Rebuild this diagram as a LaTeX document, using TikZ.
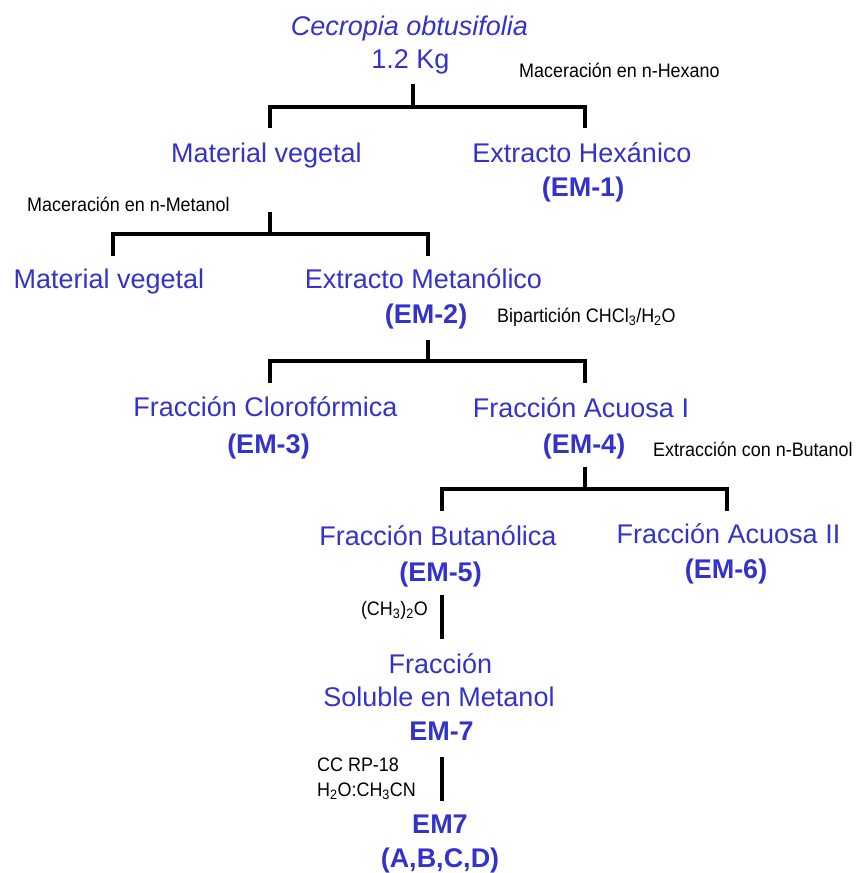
\documentclass[tikz,border=0pt]{standalone}
\usepackage{fontspec}
\setmainfont{Liberation Sans}
\newfontfamily\narrowfont[FakeStretch=0.92]{Liberation Sans}
\definecolor{diagblue}{RGB}{51,51,204}
\tikzset{
  bl/.style={anchor=base, inner sep=0pt, text=diagblue, font=\fontsize{27}{32}\selectfont},
  blb/.style={bl, font=\fontsize{27}{32}\selectfont\bfseries},
  lab/.style={anchor=base west, inner sep=0pt, text=black, font=\narrowfont\fontsize{19.5}{23}\selectfont},
  conn/.style={draw=black, line width=3.2pt, line join=miter}
}
\begin{document}
\begin{tikzpicture}[x=1pt,y=-1pt]
\useasboundingbox (0,0) rectangle (857,873);
% texts
\node[bl, font=\fontsize{27}{32}\selectfont\itshape] (cec) at (409.5,35) {Cecropia obtusifolia};
\node[bl] (kg) at (410.5,68) {1.2 Kg};
\node[lab] (hexlab) at (519,77) {Maceración en n-Hexano};
\node[bl] (mv1) at (266.5,162) {Material vegetal};
\node[bl] (eh) at (582,162) {Extracto Hexánico};
\node[blb] (em1) at (583,196) {(EM-1)};
\node[lab] (metlab) at (27,211) {Maceración en n-Metanol};
\node[bl] (mv2) at (109,288) {Material vegetal};
\node[bl] (emet) at (423.5,288) {Extracto Metanólico};
\node[blb] (em2) at (426,323) {(EM-2)};
\node[lab] (biplab) at (497,322) {Bipartición CHCl\textsubscript{3}/H\textsubscript{2}O};
\node[bl] (fclo) at (265.5,416) {Fracción Clorofórmica};
\node[blb] (em3) at (268.5,453) {(EM-3)};
\node[bl] (fac1) at (581,417) {Fracción Acuosa I};
\node[blb] (em4) at (584,453) {(EM-4)};
\node[lab] (butlab) at (653,456) {Extracción con n-Butanol};
\node[bl] (fbut) at (438,545) {Fracción Butanólica};
\node[blb] (em5) at (440.5,581) {(EM-5)};
\node[bl] (fac2) at (728.5,543) {Fracción Acuosa II};
\node[blb] (em6) at (726,578) {(EM-6)};
\node[lab, anchor=base east] (eterlab) at (428,615) {(CH\textsubscript{3})\textsubscript{2}O};
\node[bl] (fsol1) at (440.5,673) {Fracción};
\node[bl] (fsol2) at (439,706) {Soluble en Metanol};
\node[blb] (em7) at (441.5,740) {EM-7};
\node[lab] (cclab) at (317,771) {CC RP-18};
\node[lab] (solvlab) at (317,796) {H\textsubscript{2}O:CH\textsubscript{3}CN};
\node[blb] (em7b) at (440,833) {EM7};
\node[blb] (abcd) at (440,867) {(A,B,C,D)};
% connector coordinates
\coordinate (t1) at (413,84);  \coordinate (j1) at (413,107);
\coordinate (l1) at (270,128); \coordinate (r1) at (585,128);
\coordinate (t2) at (270,212); \coordinate (j2) at (270,234);
\coordinate (l2) at (113,256); \coordinate (r2) at (428,256);
\coordinate (t3) at (428,340); \coordinate (j3) at (428,361);
\coordinate (l3) at (270,383); \coordinate (r3) at (585,383);
\coordinate (t4) at (585,467); \coordinate (j4) at (585,489);
\coordinate (l4) at (442,511); \coordinate (r4) at (727,511);
\coordinate (t5) at (442,595); \coordinate (b5) at (442,639);
\coordinate (t6) at (442,757); \coordinate (b6) at (442,801);
% connectors
\draw[conn] (t1) -- (j1);
\draw[conn] (l1) |- (j1) -| (r1);
\draw[conn] (t2) -- (j2);
\draw[conn] (l2) |- (j2) -| (r2);
\draw[conn] (t3) -- (j3);
\draw[conn] (l3) |- (j3) -| (r3);
\draw[conn] (t4) -- (j4);
\draw[conn] (l4) |- (j4) -| (r4);
\draw[conn] (t5) -- (b5);
\draw[conn] (t6) -- (b6);
\end{tikzpicture}
\end{document}
